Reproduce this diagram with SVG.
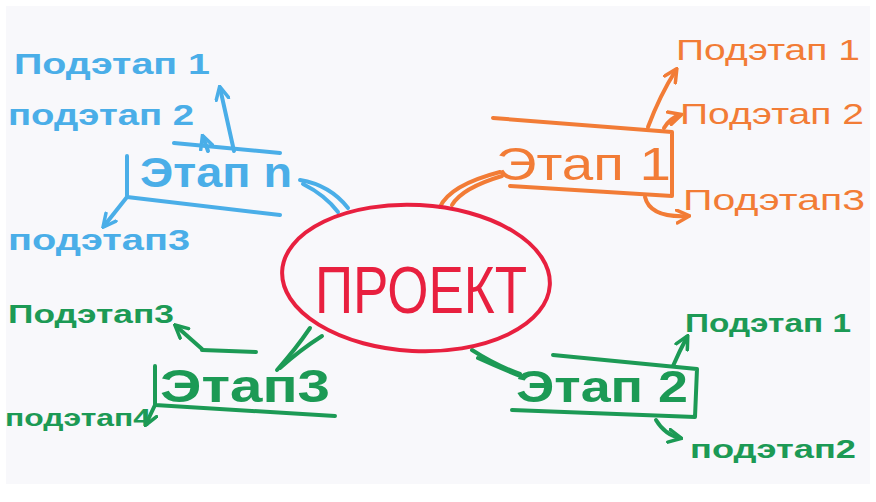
<svg xmlns="http://www.w3.org/2000/svg" width="876" height="502" viewBox="0 0 876 502">
<defs>
<style>
text{font-family:"Liberation Sans","DejaVu Sans",sans-serif;}
.ln{fill:none;stroke-width:4;stroke-linecap:round;stroke-linejoin:round;}
.b{stroke:#4aaee8;} .bt{fill:#4aaee8;}
.o{stroke:#f27c36;} .ot{fill:#f27c36;}
.g{stroke:#1c9a55;} .gt{fill:#1c9a55;}
.sub{font-size:30px;}
</style>
<marker id="ab" viewBox="0 0 10 10" refX="8" refY="5" markerWidth="4" markerHeight="4" orient="auto-start-reverse"><path d="M1,1 L9,5 L1,9" fill="none" stroke="#4aaee8" stroke-width="2.2" stroke-linecap="round"/></marker>
<marker id="ao" viewBox="0 0 10 10" refX="8" refY="5" markerWidth="4" markerHeight="4" orient="auto-start-reverse"><path d="M1,1 L9,5 L1,9" fill="none" stroke="#f27c36" stroke-width="2.2" stroke-linecap="round"/></marker>
<marker id="ag" viewBox="0 0 10 10" refX="8" refY="5" markerWidth="4" markerHeight="4" orient="auto-start-reverse"><path d="M1,1 L9,5 L1,9" fill="none" stroke="#1c9a55" stroke-width="2.2" stroke-linecap="round"/></marker>
</defs>
<rect width="876" height="502" fill="#ffffff"/>
<rect x="6" y="6" width="864" height="478" fill="#f8f8fb"/>

<g id="connectors">
  <!-- centre to stages -->
  <path class="ln b" d="M348,208 Q330,185 300,180"/>
  <path class="ln b" d="M338,212 Q325,195 303,184"/>
  <path class="ln o" d="M440,207 Q450,185 500,172"/>
  <path class="ln o" d="M452,205 Q462,188 502,176"/>
  <path class="ln g" d="M310,328 Q295,350 277,370"/>
  <path class="ln g" d="M322,336 Q300,350 280,368"/>
  <path class="ln g" d="M472,350 Q495,365 520,374"/>
  <path class="ln g" d="M478,358 Q500,368 520,376"/>
  <!-- blue substage arrows -->
  <path class="ln b" d="M234,151 L220,88" marker-end="url(#ab)"/>
  <path class="ln b" d="M208,151 L203,137" marker-end="url(#ab)"/>
  <path class="ln b" d="M127,197 L104,226" marker-end="url(#ab)"/>
  <!-- orange substage arrows -->
  <path class="ln o" d="M648,127 Q660,95 676,70" marker-end="url(#ao)"/>
  <path class="ln o" d="M664,128 Q670,118 680,115" marker-end="url(#ao)"/>
  <path class="ln o" d="M645,197 Q650,218 688,216" marker-end="url(#ao)"/>
  <!-- green right substage arrows -->
  <path class="ln g" d="M673,366 Q680,350 687,337" marker-end="url(#ag)"/>
  <path class="ln g" d="M656,420 Q665,435 680,438" marker-end="url(#ag)"/>
  <!-- green left substage arrows -->
  <path class="ln g" d="M202,349 L176,326" marker-end="url(#ag)"/>
  <path class="ln g" d="M155,405 L146,424" marker-end="url(#ag)"/>
</g>

<g id="project">
  <ellipse cx="416" cy="278" rx="134" ry="73" fill="none" stroke="#e8203f" stroke-width="4" transform="rotate(3 416 278)"/>
  <text x="421" y="313" font-size="66" text-anchor="middle" fill="#e8203f" textLength="212" lengthAdjust="spacingAndGlyphs">ПРОЕКТ</text>
</g>

<g id="stage-n">
  <path class="ln b" d="M174,143 L280,153"/>
  <path class="ln b" d="M127,156 L127,197 L280,215"/>
  <text class="bt" x="140" y="187" font-size="42" font-weight="bold" textLength="152" lengthAdjust="spacingAndGlyphs">Этап n</text>
</g>
<g id="stage-n-sub1"><text class="bt sub" x="14" y="74" font-weight="bold" textLength="196" lengthAdjust="spacingAndGlyphs">Подэтап 1</text></g>
<g id="stage-n-sub2"><text class="bt sub" x="8" y="125" font-weight="bold" textLength="186" lengthAdjust="spacingAndGlyphs">подэтап 2</text></g>
<g id="stage-n-sub3"><text class="bt sub" x="8" y="250" font-weight="bold" textLength="182" lengthAdjust="spacingAndGlyphs">подэтап3</text></g>

<g id="stage-1">
  <path class="ln o" d="M493,118 L672,132 L672,196 L510,186"/>
  <text class="ot" x="496" y="180" font-size="46" textLength="175" lengthAdjust="spacingAndGlyphs">Этап  1</text>
</g>
<g id="stage-1-sub1"><text class="ot sub" x="676" y="60" textLength="184" lengthAdjust="spacingAndGlyphs">Подэтап 1</text></g>
<g id="stage-1-sub2"><text class="ot sub" x="680" y="124" textLength="184" lengthAdjust="spacingAndGlyphs">Подэтап 2</text></g>
<g id="stage-1-sub3"><text class="ot sub" x="683" y="210" font-size="34" textLength="182" lengthAdjust="spacingAndGlyphs">Подэтап3</text></g>

<g id="stage-2">
  <path class="ln g" d="M553,355 L697,369 L695,417 L512,410"/>
  <text class="gt" x="516" y="402" font-size="44" font-weight="bold" textLength="172" lengthAdjust="spacingAndGlyphs">Этап 2</text>
</g>
<g id="stage-2-sub1"><text class="gt" x="685" y="332" font-size="26" font-weight="bold" textLength="166" lengthAdjust="spacingAndGlyphs">Подэтап 1</text></g>
<g id="stage-2-sub2"><text class="gt" x="690" y="458" font-size="26" font-weight="bold" textLength="166" lengthAdjust="spacingAndGlyphs">подэтап2</text></g>

<g id="stage-3">
  <path class="ln g" d="M202,350 L256,352"/>
  <path class="ln g" d="M155,366 L155,405 L335,416"/>
  <text class="gt" x="160" y="402" font-size="46" font-weight="bold" textLength="170" lengthAdjust="spacingAndGlyphs">Этап3</text>
</g>
<g id="stage-3-sub3"><text class="gt" x="8" y="323" font-size="26" font-weight="bold" textLength="166" lengthAdjust="spacingAndGlyphs">Подэтап3</text></g>
<g id="stage-3-sub4"><text class="gt" x="5" y="426" font-size="24" font-weight="bold" textLength="146" lengthAdjust="spacingAndGlyphs">подэтап4</text></g>
</svg>
